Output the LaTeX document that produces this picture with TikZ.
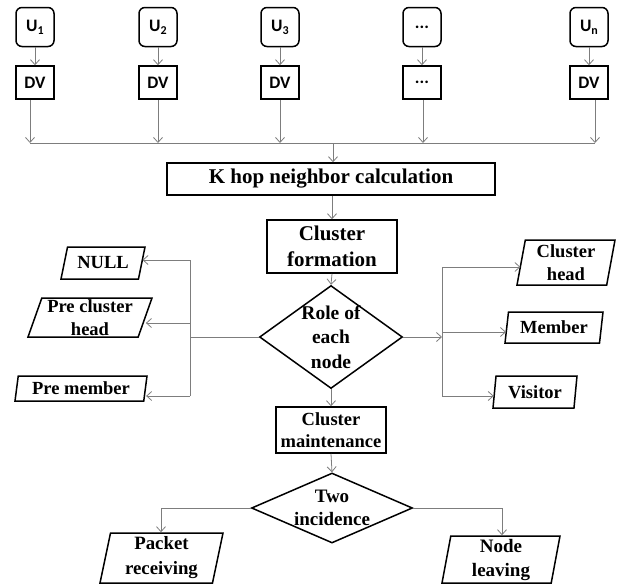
\documentclass[tikz,border=0pt]{standalone}
\usepackage{fontspec}
\setmainfont{Liberation Serif}
\newfontfamily\calib{Carlito}
\usetikzlibrary{shapes.geometric,arrows.meta}
\definecolor{linegray}{RGB}{125,125,125}
\newcommand\usub[1]{\raisebox{-3pt}{\fontsize{12}{12}\selectfont #1}}
\begin{document}
\begin{tikzpicture}[x=1pt,y=-1pt,
  ubox/.style={draw, line width=1.5pt, rounded corners=6pt, minimum width=38pt, minimum height=39pt, inner sep=0pt, font=\calib\bfseries\fontsize{17.5}{20}\selectfont},
  dvbox/.style={draw, line width=1.5pt, minimum width=38pt, minimum height=33pt, inner sep=0pt, font=\calib\bfseries\fontsize{17.5}{20}\selectfont},
  pbox/.style={draw, line width=1.5pt, inner sep=0pt, align=center},
  para/.style 2 args={trapezium, trapezium left angle=#1, trapezium right angle=#2, trapezium stretches body, draw, line width=1.5pt, inner sep=0pt, align=center, font=\bfseries\fontsize{18.5}{23}\selectfont},
  dia/.style={diamond, draw, line width=1.5pt, inner sep=0pt},
  dtext/.style={align=center, inner sep=0pt},
  conn/.style={draw=linegray, line width=0.8pt},
  arr/.style={conn, -{Straight Barb[length=5pt,width=9pt]}},
]
\useasboundingbox (0,0) rectangle (619,584);
% top row
\node[ubox] (u1) at (35,27) {U\usub{1}};
\node[ubox] (u2) at (158,27) {U\usub{2}};
\node[ubox] (u3) at (280,27) {U\usub{3}};
\node[ubox] (u4) at (422,27) {...};
\node[ubox] (u5) at (589,27) {U\usub{n}};
\node[dvbox] (dv1) at (35,82.5) {DV};
\node[dvbox] (dv2) at (158,82.5) {DV};
\node[dvbox] (dv3) at (280,82.5) {DV};
\node[dvbox] (dv4) at (422,82.5) {...};
\node[dvbox] (dv5) at (589,82.5) {DV};
\foreach \i in {1,...,5}{\draw[arr] (u\i) -- (dv\i);}
\coordinate (b1) at (30,143);
\coordinate (b2) at (158,143);
\coordinate (b3) at (280,143);
\coordinate (b4) at (423,143);
\coordinate (b5) at (595,143);
\coordinate (bk) at (333,143);
\draw[conn] (b1) -- (b5);
\foreach \i in {1,...,5}{\draw[arr] (dv\i.south -| b\i) -- (b\i);}
% main column
\node[pbox, minimum width=328pt, minimum height=32pt, font=\bfseries\fontsize{21}{26}\selectfont] (khop) at (331,179) {K hop neighbor calculation};
\draw[arr] (bk) -- (bk |- khop.north);
\node[pbox, minimum width=130pt, minimum height=53pt, font=\bfseries\fontsize{21}{26}\selectfont] (cf) at (332,246.5) {Cluster\\formation};
\draw[arr] (khop.south -| cf.north) -- (cf.north);
\node[dia, minimum width=143pt, minimum height=103pt] (d1) at (331,337) {};
\node[dtext, font=\bfseries\fontsize{19.5}{24.5}\selectfont] (d1t) at (d1) {Role of\\each\\node};
\draw[arr] (cf.south) -- (d1.north);
% left outputs
\node[para={62}{118}, minimum width=84pt, minimum height=32pt] (null) at (103,263) {NULL};
\node[para={69}{111}, minimum width=124pt, minimum height=39pt] (pch) at (90,317.5) {Pre cluster\\head};
\node[para={76}{104}, minimum width=132pt, minimum height=25pt] (pm) at (81,388.5) {Pre member};
\coordinate (lj) at (190,337);
\coordinate (l1) at (190,260);
\coordinate (l2) at (190,323);
\coordinate (l3) at (190,396);
\draw[conn] (d1.west) -- (lj);
\draw[conn] (l1) -- (l3);
\draw[arr] (l1) -- (l1 -| null.east);
\draw[arr] (l2) -- (l2 -| pch.east);
\draw[arr] (l3) -- (l3 -| pm.east);
% right outputs
\node[para={77}{103}, minimum width=98pt, minimum height=45pt] (ch) at (566,262.5) {Cluster\\head};
\node[para={75}{105}, minimum width=98pt, minimum height=31pt] (mem) at (554,327.5) {Member};
\node[para={77}{103}, minimum width=84pt, minimum height=32pt] (vis) at (535,392) {Visitor};
\coordinate (rj) at (442,337);
\coordinate (r1) at (442,267);
\coordinate (r2) at (442,332);
\coordinate (r3) at (442,396);
\draw[arr] (d1.east) -- (rj);
\draw[conn] (r1) -- (r3);
\draw[arr] (r1) -- (r1 -| ch.west);
\draw[arr] (r2) -- (r2 -| mem.west);
\draw[arr] (r3) -- (r3 -| vis.west);
% maintenance
\node[pbox, minimum width=110pt, minimum height=46pt, font=\bfseries\fontsize{18.5}{22}\selectfont] (cm) at (331,430) {Cluster\\maintenance};
\draw[arr] (d1.south) -- (cm.north);
\node[dia, minimum width=161pt, minimum height=70pt] (d2) at (332,508) {};
\node[dtext, font=\bfseries\fontsize{19}{23}\selectfont] (d2t) at (d2) {Two\\incidence};
\draw[arr] (cm.south) -- (d2.north);
\node[para={76}{104}, minimum width=123pt, minimum height=50pt, font=\bfseries\fontsize{18.8}{25}\selectfont] (pr) at (161.5,558) {Packet\\receiving};
\node[para={78}{102}, minimum width=118pt, minimum height=47pt, font=\bfseries\fontsize{19}{24}\selectfont] (nl) at (501,559.5) {Node\\leaving};
\coordinate (pl) at (161,508);
\coordinate (pq) at (502,508);
\draw[conn] (d2.west) -- (pl);
\draw[arr] (pl) -- (pl |- pr.north);
\draw[conn] (d2.east) -- (pq);
\draw[arr] (pq) -- (pq |- nl.north);
\end{tikzpicture}
\end{document}
